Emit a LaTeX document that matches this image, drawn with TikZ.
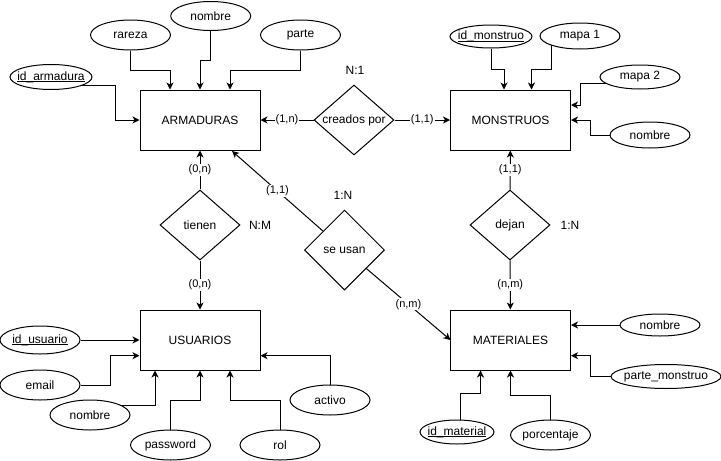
\documentclass[tikz,border=0pt]{standalone}
\usepackage{fontspec}
\setmainfont{Liberation Sans}
\usetikzlibrary{shapes.geometric,arrows.meta}
\newcommand\ulkey[1]{\setbox0\hbox{#1}\rlap{\rule[-2.1pt]{\wd0}{0.8pt}}\box0}
\begin{document}
\begin{tikzpicture}[x=1pt,y=-1pt,
  font=\fontsize{12}{14}\selectfont,
  ent/.style={draw,line width=1pt,minimum width=120pt,minimum height=60pt,inner sep=0pt},
  rel/.style={draw,diamond,line width=1pt,inner sep=0pt,minimum width=80pt,minimum height=70pt},
  att/.style={draw,ellipse,line width=1pt,inner sep=0pt,minimum width=80pt,minimum height=30pt},
  arr/.style={line width=1pt,-{Stealth[length=7pt,width=7pt,inset=2pt]}},
  lin/.style={line width=1pt},
  card/.style={fill=white,font=\fontsize{11}{13}\selectfont,inner sep=1pt},
  plain/.style={inner sep=0pt}
]
\useasboundingbox (0,0) rectangle (721,461);

% entities
\node[ent] (arm) at (200,120) {ARMADURAS};
\node[ent] (mon) at (510.5,120) {MONSTRUOS};
\node[ent] (usu) at (200,340) {USUARIOS};
\node[ent] (mat) at (510.5,340) {MATERIALES};

% relationships
\node[rel,label=center:{creados por}] (cp) at (354,120) {};
\node[rel,label=center:{tienen}] (ti) at (200,225) {};
\node[rel,minimum height=80pt,label=center:{se usan}] (su) at (344.5,250) {};
\node[rel,label=center:{dejan}] (dj) at (510,225) {};

% relationship ratios
\node[plain] (lN1) at (355,70) {N:1};
\node[plain] (l1N) at (343,195) {1:N};
\node[plain] (lNM) at (260,225) {N:M};
\node[plain] (l1Nb) at (570,225) {1:N};

% attribute ellipses
\node[att,minimum width=82pt,minimum height=25pt,label=center:{\ulkey{id\_armadura}}] (ida) at (51,77) {};
\node[att,label=center:{rareza}] (rar) at (130.5,35) {};
\node[att,minimum height=29pt,label=center:{nombre}] (nomA) at (210.7,16) {};
\node[att,label=center:{parte}] (par) at (300.5,35) {};

\node[att,minimum width=82pt,minimum height=23pt,label=center:{\ulkey{id\_monstruo}}] (idm) at (491,36.5) {};
\node[att,minimum height=26pt,label=center:{mapa 1}] (m1) at (580,36) {};
\node[att,minimum height=24pt,label=center:{mapa 2}] (m2) at (640,77) {};
\node[att,minimum height=26pt,label=center:{nombre}] (nmM) at (650,135) {};

\node[att,minimum height=28pt,label=center:{\ulkey{id\_usuario}}] (idu) at (40,340) {};
\node[att,label=center:{email}] (em) at (40,385) {};
\node[att,label=center:{nombre}] (nmU) at (90,415) {};
\node[att,label=center:{password}] (pw) at (170.5,445) {};
\node[att,label=center:{rol}] (rol) at (280,445) {};
\node[att,label=center:{activo}] (act) at (330,400) {};

\node[att,minimum height=22pt,label=center:{nombre}] (nmX) at (660,325) {};
\node[att,minimum width=110pt,minimum height=24pt,label=center:{parte\_monstruo}] (pm) at (666,376.5) {};
\node[att,minimum width=74pt,minimum height=24pt,label=center:{\ulkey{id\_material}}] (idmat) at (457,432) {};
\node[att,label=center:{porcentaje}] (pc) at (550.5,435) {};

% relationship connectors
\coordinate (armsu) at (232,151);
\coordinate (matsu) at (450.5,340);
\draw[arr] (cp) -- node[card]{(1,n)} (arm);
\draw[arr] (cp) -- node[card]{(1,1)} (mon);
\draw[arr] (ti) -- node[card]{(0,n)} (arm);
\draw[arr] (ti) -- node[card]{(0,n)} (usu);
\draw[arr] (dj) -- node[card]{(1,1)} (mon);
\draw[arr] (dj) -- node[card]{(n,m)} (mat);
\draw[arr] (su) -- node[card]{(1,1)} (armsu);
\draw[arr] (su) -- node[card]{(n,m)} (matsu);

% ARMADURAS attributes
\draw[arr] (ida.-16) -| (115.7,120) -- (arm.west);
\draw[arr] (rar.south) |- (170,70) -- ([xshift=-30pt]arm.north);
\draw[arr] (nomA.south) |- (200,60) -- (arm.north);
\draw[arr] (par.south) |- (230,70) -- ([xshift=30pt]arm.north);

% MONSTRUOS attributes
\draw[arr] (idm.south) |- (504,69) -- ([xshift=-6.5pt]mon.north);
\draw[arr] (m1.198) |- (531.5,69) -- ([xshift=21pt]mon.north);
\draw[arr] (m2.191) -| (580.7,105) -- ([yshift=15pt]mon.east);
\draw[arr] (nmM.west) -| (590.5,120) -- (mon.east);

% USUARIOS attributes
\draw[arr] (idu.east) -- (usu.west);
\draw[arr] (em.east) -| (110,355.7) -- ([yshift=-15.7pt]usu.west);
\draw[arr] (nmU.17) -| ([xshift=-45pt]usu.south);
\draw[arr] (pw.north) |- (200,400) -- (usu.south);
\draw[arr] (rol.north) |- (230,400) -- ([xshift=30pt]usu.south);
\draw[arr] (act.north) |- ([yshift=-15.7pt]usu.east);

% MATERIALES attributes
\draw[arr] (nmX.west) -- ([yshift=15pt]mat.east);
\draw[arr] (pm.west) -| (590.7,355.7) -- ([yshift=-15.7pt]mat.east);
\draw[arr] (idmat.73) |- (480.5,393.3) -- ([xshift=-30pt]mat.south);
\draw[arr] (pc.north) |- (510.5,395) -- (mat.south);
\end{tikzpicture}
\end{document}
